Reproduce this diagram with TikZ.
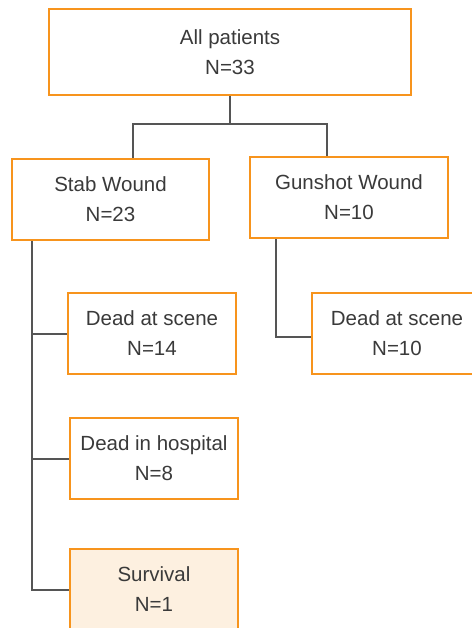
\documentclass[tikz,border=0pt]{standalone}
\usepackage{fontspec}
\setmainfont{Liberation Sans}
\usepackage{tikz}
\definecolor{boxorange}{HTML}{F7941D}
\definecolor{boxfill}{HTML}{FDF0E0}
\definecolor{linegray}{HTML}{555555}
\definecolor{textgray}{HTML}{3A3A3A}
\tikzstyle{grp}=[rectangle,draw=boxorange,fill=white,line width=2pt,align=center,text=textgray,font=\fontsize{20.5}{30}\selectfont,inner sep=0pt,text depth=-2pt]
\tikzstyle{grph}=[grp,fill=boxfill]
\tikzstyle{lnk}=[draw=linegray,line width=2pt]

\begin{document}
\begin{tikzpicture}[x=1pt,y=-1pt]
    \useasboundingbox (0,0) rectangle (471,628);
    \coordinate (split) at (230,124);
    \node[grp,minimum width=362pt,minimum height=86pt] (all) at (230,52) {All patients\\N=33};
    \node[grp,minimum width=197pt,minimum height=81pt] (stab) at (110.5,199.5) {Stab Wound\\N=23};
    \node[grp,minimum width=198pt,minimum height=81pt] (gun) at (349,197.5) {Gunshot Wound\\N=10};
    \node[grp,minimum width=168pt,minimum height=81pt] (sceneA) at (152,333.5) {Dead at scene\\N=14};
    \node[grp,minimum width=168pt,minimum height=81pt] (hosp) at (154,458.5) {Dead in hospital\\N=8};
    \node[grph,minimum width=168pt,minimum height=81pt] (surv) at (154,589.5) {Survival\\N=1};
    \node[grp,minimum width=170pt,minimum height=81pt] (sceneB) at (397,333.5) {Dead at scene\\N=10};
    \draw[lnk] (all.south) -- (split);
    \draw[lnk] (split) -| ([xshift=22.5pt]stab.north);
    \draw[lnk] (split) -| ([xshift=-22pt]gun.north);
    \draw[lnk] ([xshift=21pt]stab.south west) |- (sceneA.west);
    \draw[lnk] ([xshift=21pt]stab.south west) |- (hosp.west);
    \draw[lnk] ([xshift=21pt]stab.south west) |- (surv.west);
    \draw[lnk] ([xshift=-73pt]gun.south) |- ([yshift=-3.5pt]sceneB.west);
\end{tikzpicture}
\end{document}
